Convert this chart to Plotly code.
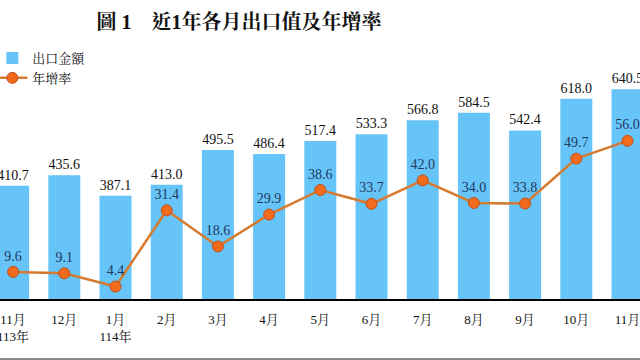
import plotly.graph_objects as go

months = ["11月<br>113年", "12月", "1月<br>114年", "2月", "3月", "4月", "5月",
          "6月", "7月", "8月", "9月", "10月", "11月"]
exports = [410.7, 435.6, 387.1, 413.0, 495.5, 486.4, 517.4, 533.3, 566.8, 584.5, 542.4, 618.0, 640.5]
growth = [9.6, 9.1, 4.4, 31.4, 18.6, 29.9, 38.6, 33.7, 42.0, 34.0, 33.8, 49.7, 56.0]

FONT = "Liberation Serif, Noto Serif CJK TC, Noto Sans CJK TC, serif"
cats = list(range(len(months)))

TOP, BOT = 40, 61
PH = 360 - TOP - BOT  # plot height in px

fig = go.Figure()
fig.add_trace(go.Bar(
    x=cats, y=exports, name="出口金額",
    marker=dict(color="#66C4F8", line=dict(width=0)),
    width=0.625,
    text=[f"{v:.1f}" for v in exports], textposition="outside",
    textfont=dict(family=FONT, size=14, color="#111111"),
    cliponaxis=False,
))
fig.add_trace(go.Scatter(
    x=cats, y=growth, name="年增率", yaxis="y2",
    mode="lines+markers+text",
    line=dict(color="#D57A2E", width=2.5),
    marker=dict(size=11, color="#F26B1D", line=dict(color="#C0501A", width=1)),
    text=[f"{v:.1f}" for v in growth], textposition="top center",
    textfont=dict(family=FONT, size=14, color="#1F3A5F"),
    cliponaxis=False,
))

fig.add_shape(type="line", xref="paper", yref="paper", x0=0, x1=1,
              y0=(299 - 359) / PH, y1=(299 - 359) / PH,
              line=dict(color="#8C8C8C", width=2))

fig.update_layout(
    width=640, height=360,
    margin=dict(l=0, r=0, t=TOP, b=BOT, autoexpand=False),
    paper_bgcolor="white", plot_bgcolor="white",
    font=dict(family=FONT, size=13, color="#111111"),
    title=dict(text="<b>圖 1　近1年各月出口值及年增率</b>", x=0.3734, xanchor="center",
               y=0.939, yanchor="middle",
               font=dict(family=FONT, size=20, color="#111111")),
    showlegend=True,
    legend=dict(x=-0.012, y=1 - (43 - TOP) / PH, xanchor="left", yanchor="top",
                bgcolor="rgba(0,0,0,0)", font=dict(family=FONT, size=13),
                traceorder="normal", tracegroupgap=0, itemwidth=30),
    xaxis=dict(type="linear", range=[-0.256, 12.244], tickmode="array",
               tickvals=cats, ticktext=months, showgrid=False, zeroline=False,
               showline=True, linecolor="#000000", linewidth=1.5,
               ticks="", ticklabelstandoff=8, automargin=False,
               ticklabeloverflow="allow",
               tickfont=dict(family=FONT, size=13, color="#111111")),
    yaxis=dict(range=[141, 141 + PH / 0.42], visible=False, showgrid=False,
               automargin=False),
    yaxis2=dict(range=[0, PH / 2.824], overlaying="y", visible=False,
                showgrid=False, automargin=False),
    bargap=0.375,
)

fig.write_html("out.html", config={"displayModeBar": False},
               post_script="document.body.style.margin='0';document.body.style.overflow='hidden';")
